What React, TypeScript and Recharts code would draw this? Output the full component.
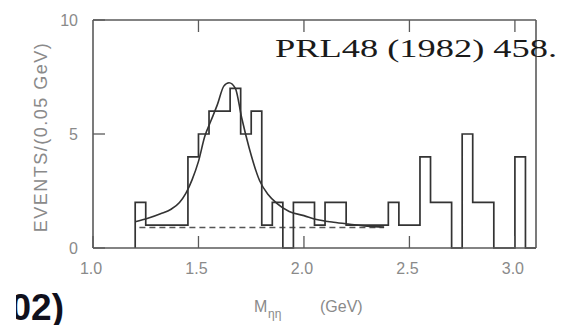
import { ComposedChart, Line, XAxis, YAxis } from "recharts";

// histogram bins (0.05 GeV wide), left edges and counts
const binStarts = [
  1.2, 1.25, 1.3, 1.35, 1.4, 1.45, 1.5, 1.55, 1.6, 1.65, 1.7, 1.75, 1.8, 1.85,
  1.9, 1.95, 2.0, 2.05, 2.1, 2.15, 2.2, 2.25, 2.3, 2.35, 2.4, 2.45, 2.5, 2.55,
  2.6, 2.65, 2.7, 2.75, 2.8, 2.85, 2.9, 2.95, 3.0, 3.05,
];
const counts = [
  2, 1, 1, 1, 1, 4, 5, 6, 6, 7, 5, 6, 1, 2, 0, 2, 2, 1, 2, 2, 1, 1, 1, 1, 2,
  1, 1, 4, 2, 2, 0, 5, 2, 2, 0, 0, 4, 0,
];
const histEnd = 3.1;

// fitted curve
const curveMass = [
  1.2, 1.26, 1.32, 1.37, 1.41, 1.44, 1.47, 1.5, 1.53, 1.56, 1.59, 1.62, 1.645,
  1.675, 1.705, 1.74, 1.79, 1.83, 1.87, 1.93, 2.0, 2.06, 2.14, 2.21, 2.3, 2.38,
];
const curveValue = [
  1.15, 1.3, 1.5, 1.7, 2.0, 2.4, 3.0, 3.8, 4.9, 5.6, 6.3, 7.1, 7.25, 7.0, 5.7,
  4.4, 2.95, 2.35, 1.97, 1.6, 1.42, 1.25, 1.13, 1.05, 0.96, 0.92,
];

// background (dashed)
const bgMass = [1.22, 2.38];
const bgValue = [0.9, 0.9];

const xTicks = [1.0, 1.5, 2.0, 2.5, 3.0];
const xTickLabels = ["1.0", "1.5", "2.0", "2.5", "3.0"];
const topTicks = [1.5, 2.0, 2.5, 3.0];
const yTicks = [0, 5, 10];
const yTickLabels = ["0", "5", "10"];

const histData = [
  { m: binStarts[0], n: 0 },
  ...binStarts.map((m, i) => ({ m, n: counts[i] })),
  { m: histEnd, n: 0 },
];
const curveData = curveMass.map((m, i) => ({ m, v: curveValue[i] }));
const bgData = bgMass.map((m, i) => ({ m, b: bgValue[i] }));

const frame = "#5a5a5a";
const labelGray = "#8a8a8a";
const TL = 12;

const BottomTick = ({ x, y, payload }: any) => {
  const i = xTicks.indexOf(payload.value);
  return (
    <g>
      <line x1={x} x2={x} y1={y} y2={y - TL} stroke={frame} strokeWidth={1.3} />
      <text x={x - 2} y={y + 26} textAnchor="middle" fontSize={16}
        fill={labelGray} fontFamily="Liberation Sans">
        {xTickLabels[i]}
      </text>
    </g>
  );
};

const TopTick = ({ x, y }: any) => (
  <line x1={x} x2={x} y1={y} y2={y + TL} stroke={frame} strokeWidth={1.3} />
);

const LeftTick = ({ x, y, payload }: any) => {
  const i = yTicks.indexOf(payload.value);
  return (
    <g>
      <line x1={x} x2={x + TL} y1={y} y2={y} stroke={frame} strokeWidth={1.3} />
      <text x={x - 15} y={y + 6} textAnchor="end" fontSize={16}
        fill={labelGray} fontFamily="Liberation Sans">
        {yTickLabels[i]}
      </text>
    </g>
  );
};

const RightTick = ({ x, y }: any) => (
  <line x1={x} x2={x - TL} y1={y} y2={y} stroke={frame} strokeWidth={1.3} />
);

export default function App() {
  return (
    <div style={{ position: "absolute", left: 0, top: 0, width: 573, height: 325, background: "#fff" }}>
      <ComposedChart
        width={573}
        height={325}
        data={histData}
        margin={{ top: 19, right: 36, bottom: 76, left: 92 }}
      >
        <XAxis
          dataKey="m"
          type="number"
          domain={[1.0, 3.1]}
          ticks={xTicks}
          height={1}
          tickSize={0}
          tickMargin={0}
          tickLine={false}
          axisLine={{ stroke: frame, strokeWidth: 1.6 }}
          tick={<BottomTick />}
          interval={0}
        />
        <XAxis
          xAxisId="top"
          orientation="top"
          dataKey="m"
          type="number"
          domain={[1.0, 3.1]}
          ticks={topTicks}
          height={1}
          tickSize={0}
          tickMargin={0}
          tickLine={false}
          axisLine={{ stroke: frame, strokeWidth: 1.6 }}
          tick={<TopTick />}
          interval={0}
        />
        <YAxis
          type="number"
          domain={[0, 10]}
          ticks={yTicks}
          width={1}
          tickSize={0}
          tickMargin={0}
          tickLine={false}
          axisLine={{ stroke: frame, strokeWidth: 1.6 }}
          tick={<LeftTick />}
          interval={0}
        />
        <YAxis
          yAxisId="right"
          orientation="right"
          type="number"
          domain={[0, 10]}
          ticks={[5]}
          width={1}
          tickSize={0}
          tickMargin={0}
          tickLine={false}
          axisLine={{ stroke: frame, strokeWidth: 1.6 }}
          tick={<RightTick />}
          interval={0}
        />
        <Line
          data={bgData}
          dataKey="b"
          type="linear"
          stroke="#555"
          strokeWidth={1.4}
          strokeDasharray="6 4"
          dot={false}
          isAnimationActive={false}
        />
        <Line
          data={histData}
          dataKey="n"
          type="stepAfter"
          stroke="#333"
          strokeWidth={1.7}
          dot={false}
          isAnimationActive={false}
        />
        <Line
          data={curveData}
          dataKey="v"
          type="monotone"
          stroke="#333"
          strokeWidth={1.6}
          dot={false}
          isAnimationActive={false}
        />
      </ComposedChart>
      <svg
        width={573}
        height={325}
        style={{ position: "absolute", left: 0, top: 0, pointerEvents: "none" }}
      >
        <defs>
          <clipPath id="cut">
            <rect x={16} y={280} width={100} height={45} />
          </clipPath>
        </defs>
        <text
          transform="translate(275,57) scale(1.4,1)"
          fontFamily="Liberation Serif"
          fontSize={26}
          fill="#1a1a1a"
        >
          PRL48 (1982) 458.
        </text>
        <text
          x={10.5}
          y={320}
          clipPath="url(#cut)"
          fontFamily="Liberation Sans"
          fontWeight="bold"
          fontSize={37}
          fill="#10101c"
        >
          02)
        </text>
        <text
          transform="translate(47,137) rotate(-90)"
          textAnchor="middle"
          fontFamily="Liberation Sans"
          fontSize={18}
          letterSpacing={1.5}
          fill={labelGray}
        >
          EVENTS/(0.05 GeV)
        </text>
        <text x={254} y={312} fontFamily="Liberation Sans" fontSize={16} fill={labelGray}>
          M
        </text>
        <text x={268} y={318} fontFamily="Liberation Sans" fontSize={12} fill={labelGray}>
          ηη
        </text>
        <text x={320} y={312} fontFamily="Liberation Sans" fontSize={16} fill={labelGray}>
          (GeV)
        </text>
      </svg>
    </div>
  );
}
